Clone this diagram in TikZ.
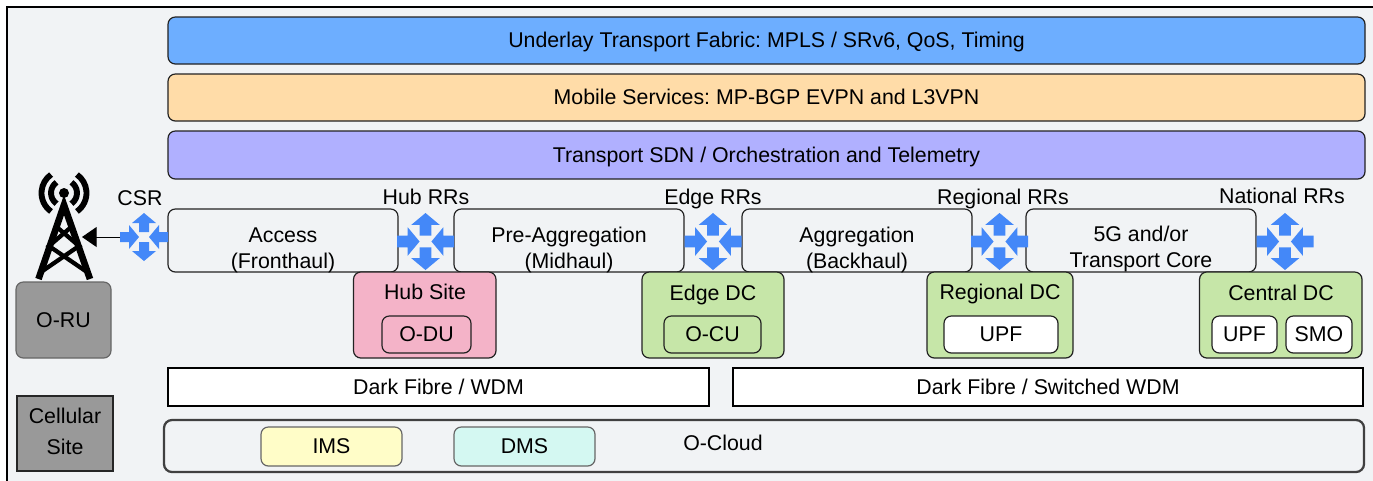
\documentclass[tikz,border=0pt]{standalone}
\usepackage{fontspec}
\setmainfont{Liberation Sans}
\usetikzlibrary{arrows.meta}
\definecolor{bgc}{HTML}{F1F3F5}
\definecolor{edgec}{HTML}{222222}
\definecolor{blueb}{HTML}{6DAEFF}
\definecolor{orangeb}{HTML}{FFDCA8}
\definecolor{purpleb}{HTML}{B0B0FF}
\definecolor{pinkb}{HTML}{F4B3C8}
\definecolor{greenb}{HTML}{C6E6A8}
\definecolor{grayb}{HTML}{999999}
\definecolor{yellowb}{HTML}{FFFDC8}
\definecolor{tealb}{HTML}{D4F8F2}
\definecolor{routerc}{HTML}{4488F8}
\tikzset{
  x=0.75pt,y=-0.75pt,
  base/.style={inner sep=0pt,outer sep=0pt,align=center,font=\fontsize{16}{19.5}\selectfont\frenchspacing},
  one/.style={base,text height=11pt,text depth=0pt},
  rbox/.style={one,draw=edgec,line width=0.9pt,rounded corners=5.5pt},
  plainbox/.style={rbox,fill=bgc},
  sqbox/.style={one,draw=black,line width=2.2pt,fill=white},
  cloudbox/.style={one,draw=black!75,line width=1.7pt,fill=bgc,rounded corners=6pt},
  txt/.style={one},
  multi/.style={base},
  routerfill/.style={fill=routerc},
  towerleg/.style={draw=black,line width=5pt},
  towerline/.style={draw=black,line width=3.2pt},
  towerarc/.style={draw=black,line width=4.4pt},
  linkarrow/.style={draw=black,line width=0.75pt,-{Triangle[length=11pt,width=15pt]}},
}
% name, style, x1, y1, x2, y2, text
\newcommand{\bx}[7]{%
  \pgfmathsetmacro{\bxw}{(#5-#3)*0.75}%
  \pgfmathsetmacro{\bxh}{(#6-#4)*0.75}%
  \node[#2,minimum width=\bxw pt,minimum height=\bxh pt] (#1) at ({(#3+#5)/2},{(#4+#6)/2}) {#7};%
}
% name, cx, cy, half size
\newcommand{\router}[4]{%
  \pgfmathsetmacro{\rtw}{#4*1.5}%
  \node[inner sep=0pt,outer sep=0pt,minimum size=\rtw pt] (#1) at (#2,#3) {};%
  \pgfmathsetmacro{\rts}{#4/24}%
  \begin{scope}[shift={(#2,#3)},scale=\rts]
    \fill[routerfill] (0,-24) -- (12,-14) -- (5,-14) -- (5,-5) -- (-5,-5) -- (-5,-14) -- (-12,-14) -- cycle;
    \fill[routerfill] (0,24) -- (12,14) -- (5,14) -- (5,5) -- (-5,5) -- (-5,14) -- (-12,14) -- cycle;
    \fill[routerfill] (-5,0) -- (-15,-12) -- (-15,-5) -- (-24,-5) -- (-24,5) -- (-15,5) -- (-15,12) -- cycle;
    \fill[routerfill] (5,0) -- (15,-12) -- (15,-5) -- (24,-5) -- (24,5) -- (15,5) -- (15,12) -- cycle;
  \end{scope}%
}
\begin{document}
\begin{tikzpicture}
\useasboundingbox (0,0) rectangle (1373,480);
\clip (0,0) rectangle (1373,480);
\fill[white] (0,0) rectangle (1373,480);
\draw[black,line width=1.6pt,fill=bgc] (7,7) rectangle (1395,500);

% layer bars
\bx{fabric}{rbox,fill=blueb}{168}{17}{1365}{64}{Underlay Transport Fabric: MPLS / SRv6, QoS, Timing}
\bx{services}{rbox,fill=orangeb}{168}{74}{1365}{121}{Mobile Services: MP-BGP EVPN and L3VPN}
\bx{sdn}{rbox,fill=purpleb}{168}{131}{1365}{179}{Transport SDN / Orchestration and Telemetry}

% network segments
\bx{access}{plainbox}{168}{209}{398}{272}{}
\bx{preagg}{plainbox}{454}{209}{684}{272}{}
\bx{agg}{plainbox}{742}{209}{972}{272}{}
\bx{core}{plainbox}{1026}{209}{1256}{272}{}
\node[multi] (accesst) at (283,250) {Access\\(Fronthaul)};
\node[multi] (preaggt) at (569,249.5) {Pre-Aggregation\\(Midhaul)};
\node[multi] (aggt) at (857,249.5) {Aggregation\\(Backhaul)};
\node[multi] (coret) at (1141,248.5) {5G and/or\\Transport Core};

% routers
\router{csr}{144}{237}{24}
\router{hubrr}{425.5}{241.5}{28.5}
\router{edgerr}{713}{241.5}{28.5}
\router{regrr}{999.5}{241.5}{28.5}
\router{natrr}{1285}{241.5}{28.5}
\node[txt] (csrl) at (140,198.5) {CSR};
\node[txt] (hubl) at (426,197.5) {Hub RRs};
\node[txt] (edgel) at (713,197.5) {Edge RRs};
\node[txt] (regl) at (1003,197.5) {Regional RRs};
\node[txt] (natl) at (1282,196.5) {National RRs};

% sites
\bx{hubsite}{rbox,fill=pinkb}{353.5}{272}{496}{358}{}
\node[txt] (hubt) at (425,292.5) {Hub Site};
\bx{odu}{rbox,fill=pinkb}{382}{316}{471}{353}{O-DU}
\bx{edgedc}{rbox,fill=greenb}{642}{272}{784}{358}{}
\node[txt] (edget) at (713,293) {Edge DC};
\bx{ocu}{rbox,fill=greenb}{664}{316}{761}{353}{O-CU}
\bx{regdc}{rbox,fill=greenb}{927}{272}{1073}{358}{}
\node[txt] (regt) at (1000,292.5) {Regional DC};
\bx{upfa}{rbox,fill=white}{944}{316}{1058}{353}{UPF}
\bx{centdc}{rbox,fill=greenb}{1199.5}{272}{1362}{358}{}
\node[txt] (centt) at (1281,293) {Central DC};
\bx{upfb}{rbox,fill=white}{1212}{316}{1277}{353}{UPF}
\bx{smo}{rbox,fill=white}{1286}{316}{1352}{353}{SMO}

% fibre
\bx{fibrea}{sqbox}{168}{368}{709}{406}{Dark Fibre / WDM}
\bx{fibreb}{sqbox}{733}{368}{1363}{406}{Dark Fibre / Switched WDM}

% cloud
\bx{cloud}{cloudbox}{164}{420}{1364}{472}{}
\bx{ims}{rbox,draw=black!60,fill=yellowb}{261}{427}{402}{466}{IMS}
\bx{dms}{rbox,draw=black!60,fill=tealb}{454}{427}{595}{466}{DMS}
\node[txt] (cloudt) at (723,443.5) {O-Cloud};

% cell site
\bx{oru}{rbox,draw=black!60,fill=grayb}{16}{282}{111}{358}{O-RU}
\bx{cellsite}{base,draw=black!85,line width=2pt,fill=grayb}{17}{396}{113}{471}{}
\node[multi] (cellt) at (65,431) {Cellular\\[3.75pt]Site};

% tower
\coordinate (towerport) at (82,237);
\fill[black] (64,193) circle (5);
\draw[towerarc] (64,193) ++(125:13) arc[start angle=125,end angle=235,radius=13];
\draw[towerarc] (64,193) ++(55:13) arc[start angle=55,end angle=-55,radius=13];
\draw[towerarc] (64,193) ++(125:22.5) arc[start angle=125,end angle=235,radius=22.5];
\draw[towerarc] (64,193) ++(55:22.5) arc[start angle=55,end angle=-55,radius=22.5];
\draw[towerleg,line join=miter] (38.5,279) -- (64,205) -- (90,279);
\draw[towerline] (41,272) -- (79,246) -- (55.6,226);
\draw[towerline] (87,272) -- (49,246) -- (72.4,226);

% link
\draw[linkarrow] (csr.west) -- (towerport);
\end{tikzpicture}
\end{document}
